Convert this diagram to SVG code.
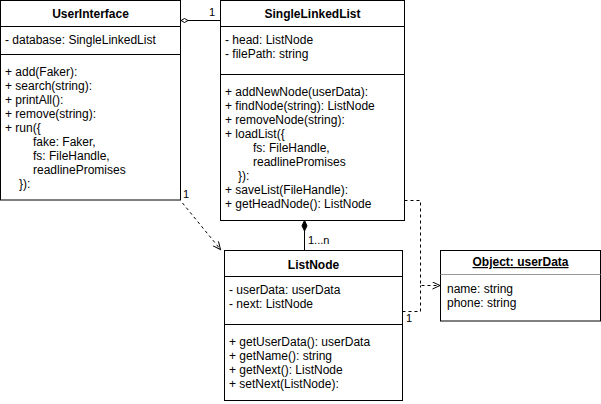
<svg xmlns="http://www.w3.org/2000/svg" width="601" height="404" viewBox="0 0 601 404">
<style>
  .box { fill: #ffffff; stroke: #000000; stroke-width: 1; }
  .sep { stroke: #000000; stroke-width: 1; }
  .sep2 { stroke: #999999; stroke-width: 1; }
  text { font-family: "Liberation Sans", Arial, Helvetica, sans-serif; font-size: 12px; fill: #000000; }
  .title { font-weight: bold; text-anchor: middle; }
  .lbl { font-size: 11px; }
  .edge { fill: none; stroke: #000000; stroke-width: 1; }
  .dash { stroke-dasharray: 3 3; }
</style>
<defs>
  <marker id="open" markerWidth="10" markerHeight="10" refX="8" refY="4" orient="auto" markerUnits="userSpaceOnUse">
    <path d="M0.5,0.5 L8,4 L0.5,7.5" fill="none" stroke="#000000" stroke-width="1"/>
  </marker>
</defs>

<g id="connectors">
  <path class="edge" d="M188,20.5 H220.5"/>
  <polygon points="181,20.5 184.5,18.5 188,20.5 184.5,22.5" fill="#ffffff" stroke="#000000" stroke-width="1"/>
  <text class="lbl" x="209" y="16">1</text>

  <path class="edge dash" d="M182.5,203 L220.5,249.5" marker-end="url(#open)"/>
  <text class="lbl" x="183" y="198">1</text>

  <path class="edge" d="M304.5,231 V250.5"/>
  <polygon points="304.5,220.5 307,225.8 304.5,231 302,225.8" fill="#000000" stroke="#000000" stroke-width="1"/>
  <text class="lbl" x="308" y="244">1...n</text>

  <path class="edge dash" d="M404.5,200.5 H420.5 V285.5 H440" marker-end="url(#open)"/>
  <text class="lbl" x="397" y="196">1</text>
  <path class="edge dash" d="M402.5,311.5 H420.5 V285.5"/>
  <text class="lbl" x="406" y="322">1</text>
</g>

<g id="UserInterface">
  <rect class="box" x="0.5" y="0.5" width="180" height="199.5"/>
  <line class="sep" x1="0.5" y1="26.5" x2="180.5" y2="26.5"/>
  <line class="sep" x1="0.5" y1="54.5" x2="180.5" y2="54.5"/>
  <text class="title" x="90.5" y="18">UserInterface</text>
  <text x="5" y="44">- database: SingleLinkedList</text>
  <text x="5" y="76">+ add(Faker):</text>
  <text x="5" y="90">+ search(string):</text>
  <text x="5" y="104">+ printAll():</text>
  <text x="5" y="118">+ remove(string):</text>
  <text x="5" y="132">+ run({</text>
  <text x="33" y="146">fake: Faker,</text>
  <text x="33" y="160">fs: FileHandle,</text>
  <text x="33" y="174">readlinePromises</text>
  <text x="19" y="188">}):</text>
</g>

<g id="SingleLinkedList">
  <rect class="box" x="220.5" y="0.5" width="184" height="220"/>
  <line class="sep" x1="220.5" y1="26.5" x2="404.5" y2="26.5"/>
  <line class="sep" x1="220.5" y1="74.5" x2="404.5" y2="74.5"/>
  <text class="title" x="312.5" y="18">SingleLinkedList</text>
  <text x="225" y="44">- head: ListNode</text>
  <text x="225" y="58">- filePath: string</text>
  <text x="225" y="96">+ addNewNode(userData):</text>
  <text x="225" y="110">+ findNode(string): ListNode</text>
  <text x="225" y="124">+ removeNode(string):</text>
  <text x="225" y="138">+ loadList({</text>
  <text x="253" y="152">fs: FileHandle,</text>
  <text x="253" y="166">readlinePromises</text>
  <text x="238" y="180">}):</text>
  <text x="225" y="194">+ saveList(FileHandle):</text>
  <text x="225" y="208">+ getHeadNode(): ListNode</text>
</g>

<g id="ListNode">
  <rect class="box" x="224.5" y="250.5" width="178" height="150"/>
  <line class="sep" x1="224.5" y1="276.5" x2="402.5" y2="276.5"/>
  <line class="sep" x1="224.5" y1="324.5" x2="402.5" y2="324.5"/>
  <text class="title" x="313.5" y="269">ListNode</text>
  <text x="229" y="294">- userData: userData</text>
  <text x="229" y="308">- next: ListNode</text>
  <text x="229" y="346">+ getUserData(): userData</text>
  <text x="229" y="360">+ getName(): string</text>
  <text x="229" y="374">+ getNext(): ListNode</text>
  <text x="229" y="388">+ setNext(ListNode):</text>
</g>

<g id="ObjectUserData">
  <rect class="box" x="440.5" y="250.5" width="160" height="70.5"/>
  <line class="sep2" x1="440.5" y1="274.5" x2="600.5" y2="274.5"/>
  <text class="title" x="520.5" y="266" text-decoration="underline">Object: userData</text>
  <text x="447" y="293">name: string</text>
  <text x="447" y="307">phone: string</text>
</g>
</svg>
